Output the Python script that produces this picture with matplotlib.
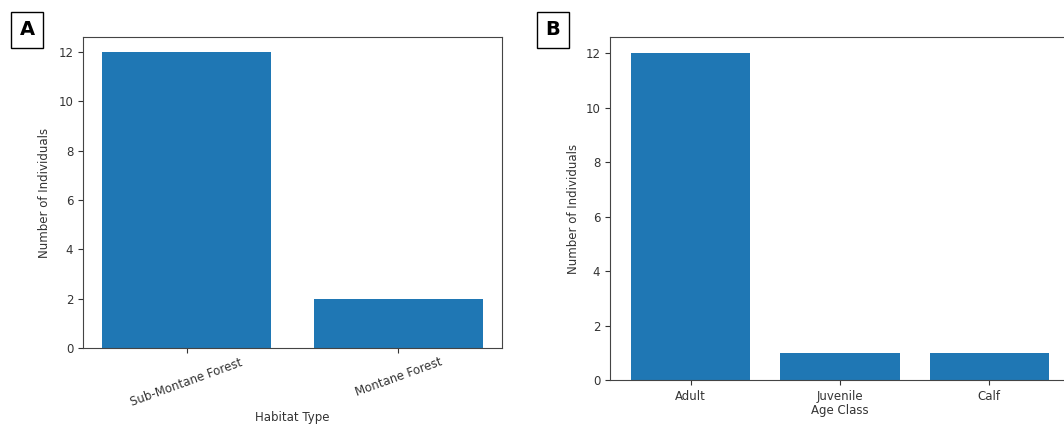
import matplotlib.pyplot as plt

habitats = ['Sub-Montane Forest', 'Montane Forest']
habitat_counts = [12, 2]
age_classes = ['Adult', 'Juvenile', 'Calf']
age_counts = [12, 1, 1]

plt.rcParams['font.family'] = 'DejaVu Sans'
plt.rcParams['font.size'] = 8.5
plt.rcParams['text.color'] = '#333333'
plt.rcParams['axes.labelcolor'] = '#333333'
plt.rcParams['xtick.color'] = '#333333'
plt.rcParams['ytick.color'] = '#333333'
plt.rcParams['axes.edgecolor'] = '#444444'

fig = plt.figure(figsize=(10.64, 4.25), dpi=100)

# panel A
ax1 = fig.add_axes([0.078, 0.181, 0.394, 0.732])
ax1.bar(habitats, habitat_counts, color='#1f77b4')
ax1.set_xlabel('Habitat Type', labelpad=2)
ax1.set_ylabel('Number of Individuals', labelpad=5)
plt.setp(ax1.get_xticklabels(), rotation=20)
ax1.tick_params(axis='x', pad=2)

# panel B (runs off the right edge like the screenshot)
ax2 = fig.add_axes([0.5733, 0.106, 0.4323, 0.807])
ax2.bar(age_classes, age_counts, color='#1f77b4')
ax2.set_xlabel('Age Class', labelpad=1)
ax2.set_ylabel('Number of Individuals')

# panel letters
for x, letter in [(0.0254, 'A'), (0.5197, 'B')]:
    fig.text(x, 0.93, letter, fontsize=14, fontweight='bold', color='black',
             ha='center', va='center',
             bbox=dict(boxstyle='square,pad=0.45', fc='white', ec='black', lw=1))

fig.savefig('out.png', dpi=100)
